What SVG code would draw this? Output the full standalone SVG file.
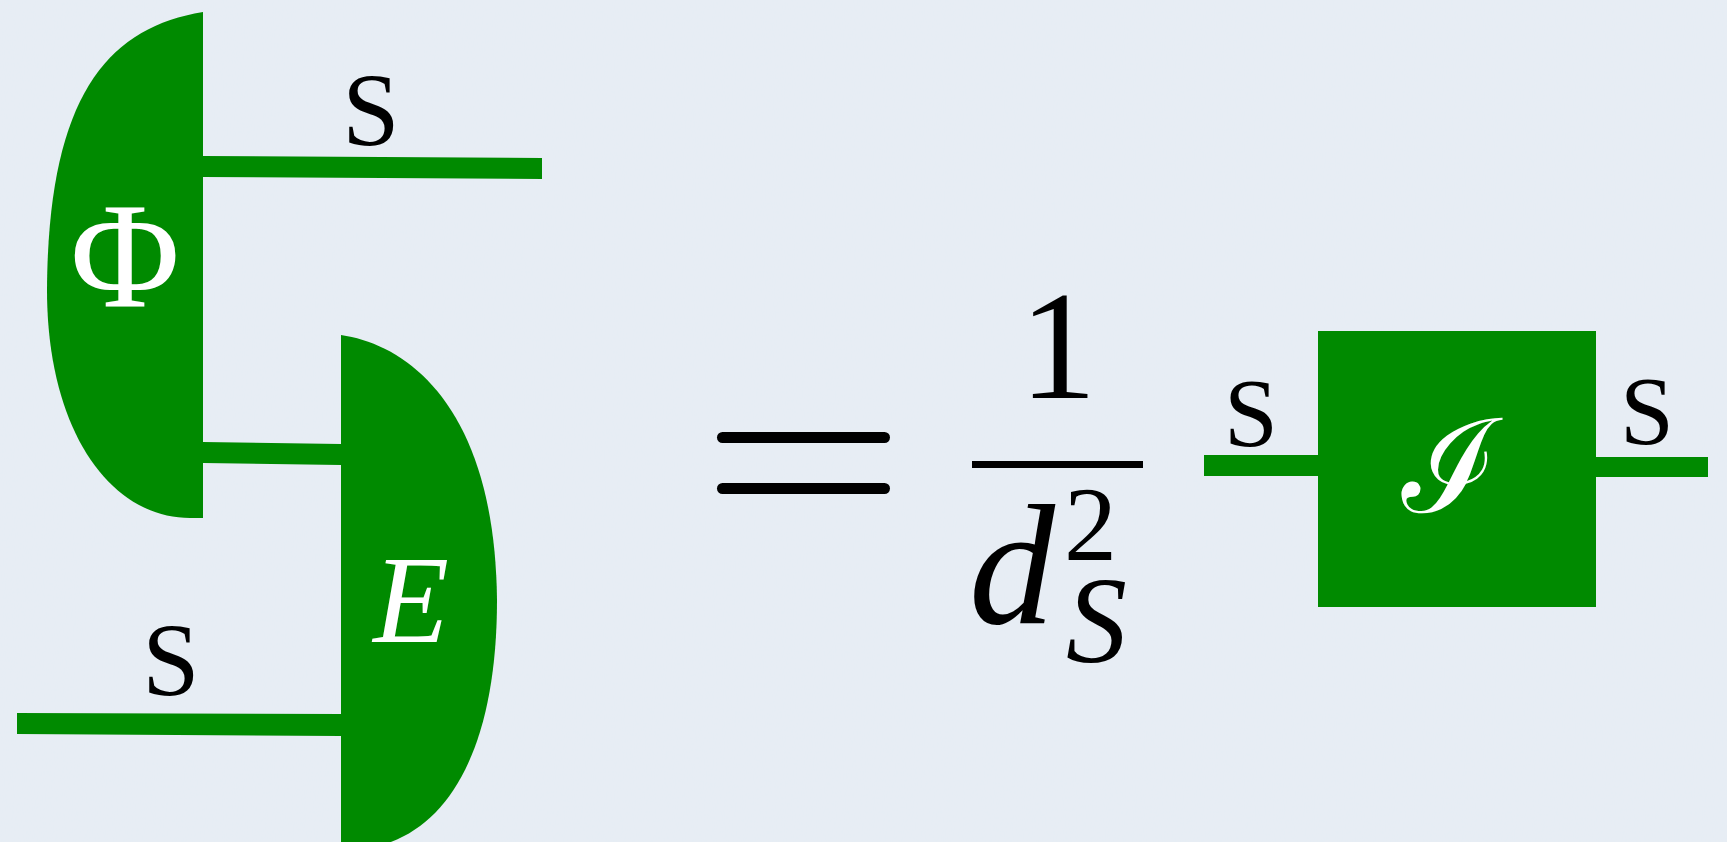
<svg xmlns="http://www.w3.org/2000/svg" width="1727" height="842" viewBox="0 0 1727 842">
  <defs>
    <filter id="paper" x="0" y="0" width="100%" height="100%">
      <feTurbulence type="fractalNoise" baseFrequency="0.9 0.35" numOctaves="3" seed="4" result="n"/>
      <feColorMatrix in="n" type="matrix" values="0 0 0 0 0.82  0 0 0 0 0.86  0 0 0 0 0.9  0 0 0 0.35 0"/>
    </filter>
    <style>
      .bg { fill: #e6edf4; }
      .shape { fill: #008a00; }
      .wire { fill: #008a00; }
      .lbl { font-family: "Liberation Serif", "DejaVu Serif", serif; fill: #000; text-anchor: middle; }
      .inner { font-family: "Liberation Serif", "DejaVu Serif", serif; fill: #fff; text-anchor: middle; }
      .it { font-style: italic; }
      .eq { stroke: #000; stroke-width: 11; stroke-linecap: round; }
    </style>
  </defs>

  <rect class="bg" x="0" y="0" width="1727" height="842"/>
  <rect x="0" y="0" width="1727" height="842" filter="url(#paper)"/>

  <g id="connectors">
    <polygon class="wire" points="203,156 542,158 542,179 203,177"/>
    <polygon class="wire" points="203,442 341,444 341,465 203,463"/>
    <polygon class="wire" points="17,713 341,714 341,736 17,734"/>
    <polygon class="wire" points="1204,455 1318,455 1318,476 1204,476"/>
    <polygon class="wire" points="1596,457 1708,457 1708,477 1596,477"/>
    <text class="lbl" x="371" y="145" font-size="103">S</text>
    <text class="lbl" x="171" y="695" font-size="103">S</text>
    <text class="lbl" x="1251" y="446" font-size="97">S</text>
    <text class="lbl" x="1647" y="444" font-size="97">S</text>
  </g>

  <g id="node-phi">
    <path class="shape" d="M203,12 C105,28 48,100 47,290 C47,430 110,518 190,518 L203,518 Z"/>
    <text class="inner" x="125" y="306" font-size="150">Φ</text>
  </g>

  <g id="node-E">
    <path class="shape" d="M341,335 C410,345 495,410 497,600 C497,760 440,850 345,850 L341,850 Z"/>
    <text class="inner it" x="411" y="642" font-size="124">E</text>
  </g>

  <g id="equation">
    <line class="eq" x1="722.5" y1="437.5" x2="884.5" y2="437.5"/>
    <line class="eq" x1="722.5" y1="488.5" x2="884.5" y2="488.5"/>
    <text class="lbl" x="1058" y="398" font-size="155">1</text>
    <rect x="972" y="461" width="171" height="7" fill="#000"/>
    <text class="lbl it" style="text-anchor:start" x="969" y="623" font-size="172">d<tspan x="1064" y="560" font-size="106" font-style="normal">2</tspan><tspan x="1066" y="662" font-size="122">S</tspan></text>
  </g>

  <g id="node-I">
    <rect class="shape" x="1318" y="331" width="278" height="276"/>
    <text class="inner" x="1450" y="512" font-size="130" font-family="DejaVu Serif, DejaVu Sans, serif">ℐ</text>
  </g>
</svg>
